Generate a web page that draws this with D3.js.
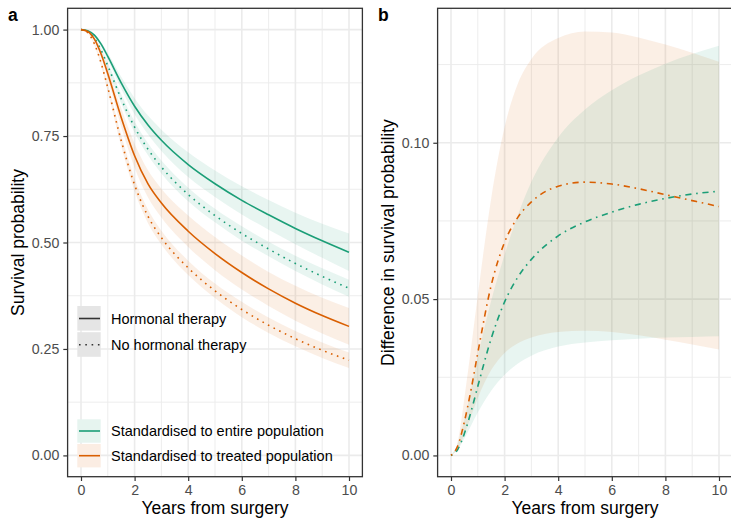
<!DOCTYPE html>
<html>
<head>
<meta charset="utf-8">
<script src="https://cdn.jsdelivr.net/npm/d3@7"></script>
<style>
body { margin: 0; background: #fff; }
text { font-family: "Liberation Sans", Arial, Helvetica, sans-serif; }
</style>
</head>
<body>
<div class="chart"></div>
<script>
// time grid (years from surgery)
const years = [0, 0.25, 0.5, 0.75, 1, 1.5, 2, 2.5, 3, 4, 5, 6, 7, 8, 9, 10];

// panel a - standardised survival, entire population
const entireHT      = [1, 0.9975, 0.987, 0.966, 0.937, 0.875, 0.82, 0.776, 0.74, 0.683, 0.638, 0.599, 0.565, 0.533, 0.504, 0.477];
const entireHTLow   = [1, 0.997, 0.985, 0.961, 0.929, 0.861, 0.801, 0.754, 0.715, 0.654, 0.607, 0.566, 0.53, 0.496, 0.464, 0.433];
const entireHTHigh  = [1, 0.998, 0.989, 0.971, 0.945, 0.889, 0.839, 0.798, 0.765, 0.712, 0.669, 0.632, 0.6, 0.57, 0.544, 0.521];
const entireNo      = [1, 0.9956, 0.98, 0.9519, 0.9149, 0.8376, 0.7709, 0.7189, 0.6773, 0.6128, 0.5633, 0.5212, 0.4847, 0.4508, 0.4204, 0.3925];
const entireNoLow   = [1, 0.9951, 0.978, 0.9469, 0.9069, 0.8266, 0.7579, 0.7049, 0.6623, 0.5968, 0.5473, 0.5042, 0.4677, 0.4328, 0.4014, 0.3725];
const entireNoHigh  = [1, 0.9961, 0.982, 0.9569, 0.9229, 0.8486, 0.7839, 0.7329, 0.6923, 0.6288, 0.5793, 0.5382, 0.5017, 0.4688, 0.4394, 0.4125];

// panel a - standardised survival, treated population
const treatedHT     = [1, 0.9956, 0.9775, 0.9425, 0.8962, 0.7937, 0.7037, 0.6375, 0.5925, 0.5265, 0.474, 0.4295, 0.391, 0.3575, 0.3285, 0.303];
const treatedHTLow  = [1, 0.9946, 0.9735, 0.9345, 0.8832, 0.7717, 0.6757, 0.6055, 0.5585, 0.4895, 0.435, 0.3895, 0.351, 0.3165, 0.2865, 0.26];
const treatedHTHigh = [1, 0.9966, 0.9815, 0.9505, 0.9092, 0.8157, 0.7317, 0.6695, 0.6265, 0.5635, 0.513, 0.4695, 0.431, 0.3985, 0.3705, 0.346];
const treatedNo     = [1, 0.9926, 0.9667, 0.9214, 0.8634, 0.7393, 0.6355, 0.5613, 0.5114, 0.4404, 0.3866, 0.3427, 0.3057, 0.2741, 0.247, 0.2234];
const treatedNoLow  = [1, 0.9916, 0.9627, 0.9144, 0.8534, 0.7263, 0.6205, 0.5453, 0.4954, 0.4234, 0.3696, 0.3247, 0.2877, 0.2561, 0.229, 0.2054];
const treatedNoHigh = [1, 0.9936, 0.9707, 0.9284, 0.8734, 0.7523, 0.6505, 0.5773, 0.5274, 0.4574, 0.4036, 0.3607, 0.3237, 0.2921, 0.265, 0.2414];

// panel b - difference in survival (HT - no HT)
const entireDiff      = [0, 0.0019, 0.007, 0.0141, 0.0221, 0.0374, 0.0491, 0.0571, 0.0627, 0.0702, 0.0747, 0.0778, 0.0803, 0.0822, 0.0836, 0.0845];
const entireDiffLow   = [0, 0.0018, 0.0054, 0.0096, 0.0137, 0.0207, 0.0258, 0.0294, 0.0319, 0.0348, 0.0361, 0.0368, 0.0373, 0.0377, 0.0379, 0.0381];
const entireDiffHigh  = [0, 0.0038, 0.0114, 0.0212, 0.0315, 0.0495, 0.0642, 0.077, 0.0875, 0.1017, 0.1106, 0.1168, 0.1215, 0.1253, 0.1284, 0.131];
const treatedDiff     = [0, 0.003, 0.0108, 0.0211, 0.0328, 0.0544, 0.0682, 0.0762, 0.0811, 0.0861, 0.0874, 0.0868, 0.0853, 0.0834, 0.0815, 0.0796];
const treatedDiffLow  = [0, 0.0021, 0.0067, 0.0125, 0.0183, 0.0273, 0.0328, 0.0359, 0.0377, 0.0395, 0.0399, 0.0395, 0.0384, 0.037, 0.0355, 0.0339];
const treatedDiffHigh = [0, 0.0044, 0.0184, 0.0344, 0.0512, 0.0822, 0.105, 0.119, 0.1268, 0.1335, 0.1356, 0.1353, 0.1337, 0.1314, 0.1288, 0.1259];

// ticks
const xTicks = [0, 2, 4, 6, 8, 10];
const xMinor = [1, 3, 5, 7, 9];
const survTicks = [0, 0.25, 0.5, 0.75, 1];
const survMinor = [0.125, 0.375, 0.625, 0.875];
const diffTicks = [0, 0.05, 0.1];
const diffMinor = [0.025, 0.075, 0.125];

// legend labels
const therapyLabels = ['Hormonal therapy', 'No hormonal therapy'];
const popLabels = ['Standardised to entire population', 'Standardised to treated population'];

const green = '#1b9e77';
const orange = '#d95f02';
const dotted = '1.6,4.7';
const dotdash = '1.6,4.7,6.2,4.7';

const width = 731, height = 520;
const panelTop = 8.3, panelBottom = 476.7;

const svg = d3.select('.chart')
    .append('svg')
    .attr('width', width)
    .attr('height', height);

const xA = d3.scaleLinear().domain([-0.5, 10.5]).range([67.6, 362.4]);
const xB = d3.scaleLinear().domain([-0.5, 10.5]).range([437.6, 732.4]);
const yA = d3.scaleLinear().domain([-0.05, 1.05]).range([panelBottom, panelTop]);
const yB = d3.scaleLinear().domain([-0.0068, 0.143]).range([panelBottom, panelTop]);

function panel(x, y, yTicks, yMinor, fmt) {
    const g = svg.append('g');
    const x0 = x.range()[0], x1 = x.range()[1];

    g.selectAll('.xminor').data(xMinor).enter().append('line')
        .attr('x1', d => x(d)).attr('x2', d => x(d))
        .attr('y1', panelTop).attr('y2', panelBottom)
        .attr('stroke', '#ebebeb').attr('stroke-width', 0.9);
    g.selectAll('.yminor').data(yMinor).enter().append('line')
        .attr('x1', x0).attr('x2', x1)
        .attr('y1', d => y(d)).attr('y2', d => y(d))
        .attr('stroke', '#ebebeb').attr('stroke-width', 0.9);
    g.selectAll('.xmajor').data(xTicks).enter().append('line')
        .attr('x1', d => x(d)).attr('x2', d => x(d))
        .attr('y1', panelTop).attr('y2', panelBottom)
        .attr('stroke', '#ebebeb').attr('stroke-width', 1.6);
    g.selectAll('.ymajor').data(yTicks).enter().append('line')
        .attr('x1', x0).attr('x2', x1)
        .attr('y1', d => y(d)).attr('y2', d => y(d))
        .attr('stroke', '#ebebeb').attr('stroke-width', 1.6);

    const xAxis = d3.axisBottom(x).tickValues(xTicks).tickFormat(d3.format('d'))
        .tickSize(4.3).tickPadding(4);
    const yAxis = d3.axisLeft(y).tickValues(yTicks).tickFormat(d3.format(fmt))
        .tickSize(4.3).tickPadding(4);

    const gx = svg.append('g').attr('transform', 'translate(0,' + panelBottom + ')').call(xAxis);
    const gy = svg.append('g').attr('transform', 'translate(' + x0 + ',0)').call(yAxis);
    [gx, gy].forEach(a => {
        a.select('.domain').remove();
        a.selectAll('line').attr('stroke', '#333').attr('stroke-width', 1.2);
        a.selectAll('text').attr('fill', '#4d4d4d').attr('font-size', '14.2px')
            .attr('font-family', '"Liberation Sans", Arial, sans-serif');
    });
    return g;
}

function ribbon(g, x, y, lo, hi, color) {
    const area = d3.area()
        .x((d, i) => x(years[i]))
        .y0((d, i) => y(lo[i]))
        .y1((d, i) => y(hi[i]))
        .curve(d3.curveMonotoneX);
    g.append('path').datum(years)
        .attr('d', area)
        .attr('fill', color)
        .attr('fill-opacity', 0.1);
}

function curve(g, x, y, vals, color, dash) {
    const line = d3.line()
        .x((d, i) => x(years[i]))
        .y(d => y(d))
        .curve(d3.curveMonotoneX);
    g.append('path').datum(vals)
        .attr('d', line)
        .attr('fill', 'none')
        .attr('stroke', color)
        .attr('stroke-width', 1.6)
        .attr('stroke-dasharray', dash);
}

// ---- panel a
const gA = panel(xA, yA, survTicks, survMinor, '.2f');
ribbon(gA, xA, yA, entireHTLow, entireHTHigh, green);
ribbon(gA, xA, yA, entireNoLow, entireNoHigh, green);
ribbon(gA, xA, yA, treatedHTLow, treatedHTHigh, orange);
ribbon(gA, xA, yA, treatedNoLow, treatedNoHigh, orange);
curve(gA, xA, yA, entireHT, green, null);
curve(gA, xA, yA, entireNo, green, dotted);
curve(gA, xA, yA, treatedHT, orange, null);
curve(gA, xA, yA, treatedNo, orange, dotted);

// ---- panel b
const gB = panel(xB, yB, diffTicks, diffMinor, '.2f');
ribbon(gB, xB, yB, treatedDiffLow, treatedDiffHigh, orange);
ribbon(gB, xB, yB, entireDiffLow, entireDiffHigh, green);
curve(gB, xB, yB, entireDiff, green, dotdash);
curve(gB, xB, yB, treatedDiff, orange, dotdash);

// panel borders
[xA, xB].forEach(x => {
    svg.append('rect')
        .attr('x', x.range()[0]).attr('y', panelTop)
        .attr('width', x.range()[1] - x.range()[0]).attr('height', panelBottom - panelTop)
        .attr('fill', 'none').attr('stroke', '#333').attr('stroke-width', 1.3);
});

// legends inside panel a
const therapyKeys = svg.append('g');
therapyKeys.selectAll('rect').data(therapyLabels).enter().append('rect')
    .attr('x', 77.3).attr('y', (d, i) => 306 + i * 26.2)
    .attr('width', 23.4).attr('height', 24.6)
    .attr('fill', '#e5e5e5');
therapyKeys.selectAll('line').data(therapyLabels).enter().append('line')
    .attr('x1', 79).attr('x2', 100)
    .attr('y1', (d, i) => 318.5 + i * 26.2).attr('y2', (d, i) => 318.5 + i * 26.2)
    .attr('stroke', '#333').attr('stroke-width', 1.6)
    .attr('stroke-dasharray', (d, i) => i ? dotted : null);
therapyKeys.selectAll('text').data(therapyLabels).enter().append('text')
    .attr('x', 111).attr('y', (d, i) => 323.8 + i * 26.2)
    .attr('font-size', '14.5px').attr('fill', '#000')
    .text(d => d);

const popKeys = svg.append('g');
popKeys.selectAll('rect').data(popLabels).enter().append('rect')
    .attr('x', 77.3).attr('y', (d, i) => 419.3 + i * 24.7)
    .attr('width', 23.4).attr('height', 23.4)
    .attr('fill', (d, i) => i ? '#fbede3' : '#e6f4ef');
popKeys.selectAll('line').data(popLabels).enter().append('line')
    .attr('x1', 79).attr('x2', 100)
    .attr('y1', (d, i) => 431 + i * 24.7).attr('y2', (d, i) => 431 + i * 24.7)
    .attr('stroke', (d, i) => i ? orange : green).attr('stroke-width', 1.6);
popKeys.selectAll('text').data(popLabels).enter().append('text')
    .attr('x', 111).attr('y', (d, i) => 436.2 + i * 24.7)
    .attr('font-size', '14.5px').attr('fill', '#000')
    .text(d => d);

// axis titles
svg.append('text')
    .attr('x', (xA.range()[0] + xA.range()[1]) / 2).attr('y', 514)
    .attr('text-anchor', 'middle').attr('font-size', '17.5px')
    .text('Years from surgery');
svg.append('text')
    .attr('x', (xB.range()[0] + xB.range()[1]) / 2).attr('y', 514)
    .attr('text-anchor', 'middle').attr('font-size', '17.5px')
    .text('Years from surgery');
svg.append('text')
    .attr('transform', 'translate(24,' + (panelTop + panelBottom) / 2 + ') rotate(-90)')
    .attr('text-anchor', 'middle').attr('font-size', '17.5px')
    .text('Survival probability');
svg.append('text')
    .attr('transform', 'translate(394,' + (panelTop + panelBottom) / 2 + ') rotate(-90)')
    .attr('text-anchor', 'middle').attr('font-size', '17.5px')
    .text('Difference in survival probability');

// panel tags
svg.append('text').attr('x', 8).attr('y', 20.7)
    .attr('font-size', '17.5px').attr('font-weight', 'bold').text('a');
svg.append('text').attr('x', 378).attr('y', 20.7)
    .attr('font-size', '17.5px').attr('font-weight', 'bold').text('b');
</script>
</body>
</html>
